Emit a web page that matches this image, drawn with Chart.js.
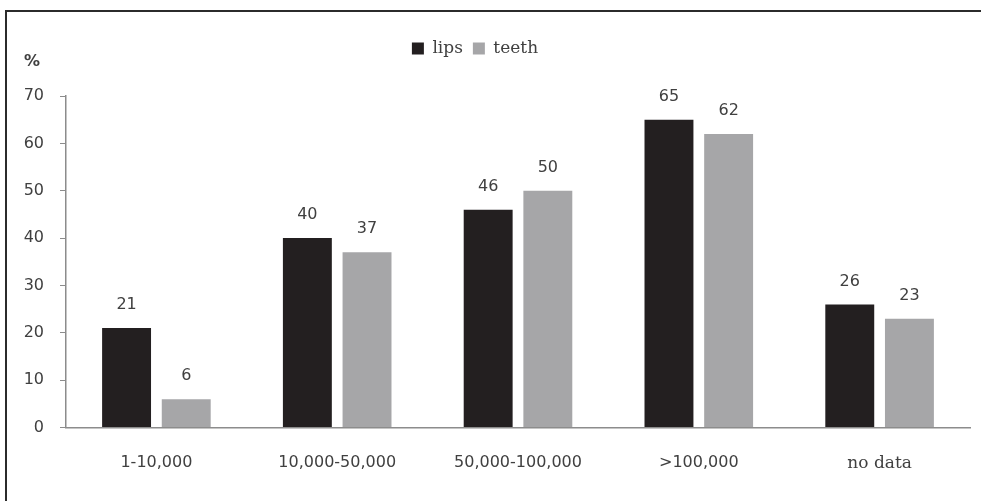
<!DOCTYPE html>
<html>
<head>
<meta charset="utf-8">
<script src="https://cdn.jsdelivr.net/npm/chart.js@4"></script>
<style>
    html, body { margin: 0; background: #fff; overflow: hidden; }
    #wrap { position: relative; width: 981px; height: 501px; }
    #frame {
        position: absolute; left: 5px; top: 10px; width: 976px; height: 491px;
        border-top: 2px solid #2b2b2b; border-left: 2px solid #2b2b2b;
        box-sizing: border-box; pointer-events: none;
    }
</style>
</head>
<body>
<div id="wrap">
    <canvas id="chart_canvas" width="981" height="501"></canvas>
    <div id="frame"></div>
</div>
<script>
const categories = ["1-10,000", "10,000-50,000", "50,000-100,000", ">100,000", "no data"];
const lipsData = [21, 40, 46, 65, 26];
const teethData = [6, 37, 50, 62, 23];
const textColor = "#404040";
const axisColor = "#8c8c8c";

// value labels above each bar
const valueLabels = {
    id: 'valueLabels',
    afterDatasetsDraw(chart) {
        const ctx = chart.ctx;
        ctx.save();
        ctx.font = "16px 'DejaVu Sans'";
        ctx.fillStyle = textColor;
        ctx.textAlign = 'center';
        ctx.textBaseline = 'middle';
        chart.data.datasets.forEach(function(ds, i) {
            chart.getDatasetMeta(i).data.forEach(function(bar, j) {
                ctx.fillText(ds.data[j], bar.x, bar.y - 23);
            });
        });
        ctx.restore();
    }
};

// legend sits a bit left of the canvas centre in the original
const legendShift = {
    id: 'legendShift',
    afterLayout(chart) {
        chart.legend.left -= 22;
        chart.legend.right -= 22;
    }
};

var lineChart = new Chart(document.getElementById("chart_canvas"), {
    type: 'bar',
    data: {
        labels: categories,
        datasets: [
            {
                label: "lips",
                data: lipsData,
                backgroundColor: "#231f20",
                categoryPercentage: 0.66,
                barPercentage: 0.82
            },
            {
                label: "teeth",
                data: teethData,
                backgroundColor: "#a6a6a8",
                categoryPercentage: 0.66,
                barPercentage: 0.82
            }
        ]
    },
    options: {
        responsive: false,
        animation: false,
        layout: { padding: { top: 30, left: 24, right: 11, bottom: 1 } },
        plugins: {
            tooltip: { enabled: false },
            legend: {
                position: 'top',
                labels: {
                    boxWidth: 12,
                    boxHeight: 12,
                    padding: 10,
                    color: textColor,
                    font: { family: "'DejaVu Serif'", size: 17 }
                }
            },
            subtitle: {
                display: true,
                text: '%',
                align: 'start',
                weight: 500,
                color: textColor,
                font: { family: "'DejaVu Sans'", size: 16, weight: 'bold' },
                padding: { top: -14.6, bottom: 24.4 }
            }
        },
        scales: {
            x: {
                grid: { drawOnChartArea: false, drawTicks: false },
                border: { color: axisColor, width: 1.5 },
                ticks: {
                    padding: 26,
                    color: textColor,
                    font: function(c) {
                        if (c.index === 4) return { family: "'DejaVu Serif'", size: 17 };
                        return { family: "'DejaVu Sans'", size: 16 };
                    }
                }
            },
            y: {
                min: 0,
                max: 70,
                afterFit: function(scale) { scale.width = 42; },
                grid: { drawOnChartArea: false, drawTicks: true, tickLength: 6, color: axisColor },
                border: { color: axisColor, width: 1.5 },
                ticks: {
                    stepSize: 10,
                    padding: 16,
                    color: textColor,
                    font: { family: "'DejaVu Sans'", size: 16 }
                }
            }
        }
    },
    plugins: [valueLabels, legendShift]
});
</script>
</body>
</html>
